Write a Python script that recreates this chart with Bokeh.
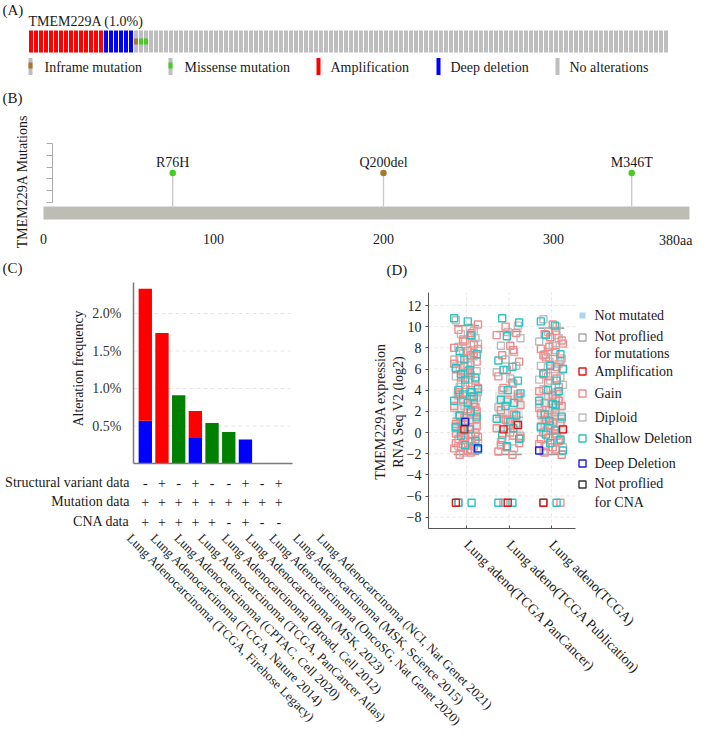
import math
from bokeh.plotting import figure
from bokeh.models import Range1d, LinearAxis, FixedTicker, CustomJSTickFormatter, PrintfTickFormatter
from bokeh.core.properties import value
from bokeh.embed import file_html
from bokeh.resources import INLINE

# ================= DATA =================
# Panel A: OncoPrint summary
gene = "TMEM229A"
altered_pct = 1.0
onco_types = ["Amplification", "Deep deletion", "Inframe mutation", "Missense mutation", "No alterations"]
onco_counts = [15, 6, 1, 2, 104]
onco_legend = ["Inframe mutation", "Missense mutation", "Amplification", "Deep deletion", "No alterations"]

# Panel B: lollipop
mut_names = ["R76H", "Q200del", "M346T"]
mut_pos = [76, 200, 346]
mut_count = [1, 1, 1]
mut_kind = ["Missense mutation", "Inframe mutation", "Missense mutation"]
protein_length = 380
protein_ticks = [0, 100, 200, 300, 380]
count_ticks = [0, 0.4, 0.8, 1.2, 1.6, 2.0]

# Panel C: alteration frequency by study
studies = [
    "Lung Adenocarcinoma (TCGA, Firehose Legacy)",
    "Lung Adenocarcinoma (TCGA, Nature 2014)",
    "Lung Adenocarcinoma (CPTAC, Cell 2020)",
    "Lung Adenocarcinoma (TCGA, PanCancer Atlas)",
    "Lung Adenocarcinoma (Broad, Cell 2012)",
    "Lung Adenocarcinoma (MSK, 2023)",
    "Lung Adenocarcinoma (OncoSG, Nat Genet 2020)",
    "Lung Adenocarcinoma (MSK, Science 2015)",
    "Lung Adenocarcinoma (NCI, Nat Genet 2021)",
]
freq_deep = [0.57, 0, 0, 0.34, 0, 0, 0.32, 0, 0]
freq_amp = [1.76, 1.74, 0, 0.36, 0, 0, 0, 0, 0]
freq_mut = [0, 0, 0.91, 0, 0.54, 0.42, 0, 0, 0]
profile_rows = ["Structural variant data", "Mutation data", "CNA data"]
sv_data = ["-", "+", "-", "+", "-", "-", "+", "-", "+"]
mutation_data = ["+", "+", "+", "+", "+", "+", "+", "+", "+"]
cna_data = ["+", "+", "+", "+", "+", "-", "+", "-", "-"]
freq_ticks = [0.5, 1.0, 1.5, 2.0]

# Panel D: expression by CNA
d_cats = ["Lung adeno(TCGA PanCancer)", "Lung adeno(TCGA Publication)", "Lung adeno(TCGA)"]
expr_ticks = [-8, -6, -4, -2, 0, 2, 4, 6, 8, 10, 12]
box_q1 = [-0.2, 0.03, -0.2]
box_q3 = [3.95, 3.85, 3.9]
box_med = [1.35, 1.45, 1.3]
whisk_lo = [-2.08, -2.08, -2.08]
whisk_hi = [10.1, 9.54, 9.86]

pan_diploid = [10.6, 9.9, 9.3, 8.9, 8.7, 8.4, 8.1, 7.8, 7.5, 7.2, 6.9, 6.6, 6.4, 6.1, 5.8, 5.6, 5.3, 5.0,
               4.7, 4.4, 4.1, 3.8, 3.5, 3.2, 2.9, 2.6, 2.3, 2.0, 1.8, 1.5, 1.2, 0.9, 0.6, 0.3, 0.0, -0.3,
               -0.7, -1.0, -1.3, -1.7, -1.9, 9.6, 8.0, 7.0, 5.4, 4.3, 3.3, 2.5, 0.4]
pan_gain = [10.2, 9.7, 9.1, 8.8, 8.3, 8.0, 7.7, 7.3, 7.0, 6.7, 6.3, 6.0, 5.6, 5.2, 4.9, 4.5, 4.2, 3.8,
            3.4, 3.1, 2.8, 2.5, 2.2, 1.9, 1.6, 1.3, 1.1, 0.8, 0.5, 0.2, 0.0, -0.2, -0.4, -0.6, -0.9, -1.1,
            -1.3, -1.5, -1.7, -1.9, -2.1, 0.6, -0.5, -1.0, -1.6, 1.0, 2.4, 5.5, 7.9, -6.64,
            9.4, 8.6, 7.5, 6.5, 5.8, 4.0, 3.6, 2.0, 1.4, -0.1, -0.8, -1.4]
pan_shallow = [10.8, 10.5, 9.2, 7.7, 7.4, 6.9, 6.1, 5.9, 5.5, 5.2, 5.0, 4.1, 4.0, 3.8, 3.6, 3.4, 3.0,
               2.8, 2.0, 1.6, 1.5, 1.0, 0.5, 0.3, -0.3, -0.8, -1.2, -1.6, -6.64, -6.64]
pan_amp = [0.3, -6.64]
pan_deep = [1.0, -1.5]

pub_diploid = [10.1, 9.5, 8.9, 8.2, 7.6, 6.9, 6.3, 5.7, 5.1, 4.6, 4.0, 3.4, 2.9, 2.4, 1.9, 1.3, 0.8,
               0.3, -0.3, -0.9, -1.5]
pub_gain = [10.0, 9.4, 9.2, 8.2, 7.8, 7.3, 6.7, 5.9, 5.3, 4.7, 4.2, 3.6, 3.1, 2.6, 2.1, 1.7, 1.2, 0.8,
            0.4, 0.0, -0.3, -0.7, -1.0, -1.4, -1.8, -2.1, -6.64, 3.3, 1.0, -0.5, -1.2]
pub_shallow = [10.8, 10.4, 9.1, 6.8, 6.2, 5.9, 4.9, 4.0, 3.7, 3.1, 2.8, 2.5, 1.6, 1.3, 1.0, 0.4, -0.2,
               -0.6, -1.3, -6.64, -6.64]
pub_amp = [0.3, 0.7, -6.64]
pub_deep = []

tcga_diploid = [10.7, 10.0, 9.5, 8.9, 8.6, 8.2, 7.8, 7.4, 7.0, 6.7, 6.3, 6.0, 5.6, 5.2, 4.9, 4.5, 4.1,
                3.8, 3.4, 3.0, 2.7, 2.3, 2.0, 1.7, 1.3, 1.0, 0.6, 0.2, -0.2, -0.6, -1.0, -1.4, -1.8,
                9.2, 7.6, 6.5, 5.0, 3.6, 2.5, 0.8]
tcga_gain = [10.2, 9.6, 9.3, 8.7, 8.1, 7.9, 7.6, 7.1, 6.8, 6.4, 6.0, 5.5, 5.1, 4.7, 4.3, 3.9, 3.5, 3.2,
             2.8, 2.5, 2.1, 1.8, 1.5, 1.2, 0.9, 0.6, 0.3, 0.0, -0.3, -0.5, -0.8, -1.1, -1.4, -1.6, -1.9,
             -2.1, 0.7, -0.6, 1.9, 4.0, -6.64, 9.0, 8.4, 7.3, 6.2, 5.3, 3.0, 2.3, 1.0, -0.1, -1.3]
tcga_shallow = [10.5, 10.1, 9.2, 7.4, 6.3, 6.0, 5.6, 4.9, 4.0, 3.9, 3.0, 2.7, 2.6, 1.7, 1.5, 1.1, 0.5,
                0.2, -0.2, -0.7, -1.0, -1.7, -6.64, -6.64]
tcga_amp = [0.3, -6.64]
tcga_deep = [-1.7]

d_legend = ["Not mutated", "Not proflied", "for mutations", "Amplification", "Gain", "Diploid",
            "Shallow Deletion", "Deep Deletion", "Not proflied", "for CNA"]

# ================= LAYOUT HELPERS =================
W, H, OFF = 693, 733, 0
FONT = "Liberation Serif"
INK = "#1a1a1a"


def make_x(a, pa, b, pb):
    s = (pb - pa) / (b - a)
    conv = lambda px: a + (px - pa) / s
    return Range1d(start=conv(OFF), end=conv(OFF + W)), conv


def make_y(a, pa, b, pb):
    s = (pb - pa) / (b - a)
    conv = lambda py: a + (py - pa) / s
    return Range1d(start=conv(OFF + H), end=conv(OFF)), conv


p = figure(width=W, height=H, output_backend="svg", toolbar_location=None,
           x_range=Range1d(OFF, OFF + W), y_range=Range1d(OFF + H, OFF),
           x_axis_type=None, y_axis_type=None, min_border=0)
p.outline_line_color = None
p.background_fill_color = "white"
p.border_fill_color = "white"

ax_r, ax_c = make_x(0, 30.5, 127, 665.5)
ay_r, ay_c = make_y(0, 52, 1, 30)
bx_r, bx_c = make_x(0, 43, 380, 689)
by_r, by_c = make_y(0, 202, 2, 143)
cx_r, cx_c = make_x(0, 144.8, 8, 278.3)
cy_r, cy_c = make_y(0, 463, 2, 313)
dx_r, dx_c = make_x(0, 466, 2, 551)
dy_r, dy_c = make_y(0, 432, 12, 305)
p.extra_x_ranges = {"ax": ax_r, "bx": bx_r, "cx": cx_r, "dx": dx_r}
p.extra_y_ranges = {"ay": ay_r, "by": by_r, "cy": cy_r, "dy": dy_r}


def T(x, y, s, size=14, align="left", baseline="middle", angle=0.0, color=INK, xn="default", yn="default"):
    p.text(x=x, y=y, text=s, angle=angle, text_font=value(FONT), text_font_size=value(f"{size}px"),
           text_align=align, text_baseline=baseline, text_color=color,
           x_range_name=xn, y_range_name=yn)


def style_axis(a, size=14):
    a.major_label_text_font = FONT
    a.major_label_text_font_size = f"{size}px"
    a.major_label_text_color = INK
    a.minor_tick_in = 0
    a.minor_tick_out = 0


ONCO = {"Amplification": "#FF0000", "Deep deletion": "#0000FF", "Inframe mutation": "#A57A2C",
        "Missense mutation": "#44CC22", "No alterations": "#BEBEBE"}

# ================= PANEL A =================
T([2], [9], ["(A)"], size=15)
T([28], [21], [f"{gene} ({altered_pct:.1f}%)"], size=14)
col_kind = [k for k, n in zip(onco_types, onco_counts) for _ in range(n)]
col_idx = list(range(len(col_kind)))
base_col = [ONCO[k] if k in ("Amplification", "Deep deletion") else ONCO["No alterations"] for k in col_kind]
p.vbar(x=col_idx, width=0.8, bottom=0, top=1, fill_color=base_col, line_color=None,
       x_range_name="ax", y_range_name="ay")
mcols = [i for i, k in enumerate(col_kind) if k.endswith("mutation")]
p.vbar(x=mcols, width=0.8, bottom=0.36, top=0.64, fill_color=[ONCO[col_kind[i]] for i in mcols],
       line_color=None, x_range_name="ax", y_range_name="ay")

leg_mx = [30, 170, 318, 438, 557]
leg_tx = [44, 184, 330, 450, 569]
leg_base = [ONCO[k] if k in ("Amplification", "Deep deletion") else ONCO["No alterations"] for k in onco_legend]
p.rect(x=leg_mx, y=[66] * 5, width=4, height=17, fill_color=leg_base, line_color=None)
inner = [(x, ONCO[k]) for x, k in zip(leg_mx, onco_legend) if k.endswith("mutation")]
p.rect(x=[i[0] for i in inner], y=[65] * len(inner), width=4, height=6,
       fill_color=[i[1] for i in inner], line_color=None)
T(leg_tx, [67] * 5, onco_legend, size=14)

# ================= PANEL B =================
T([2], [97], ["(B)"], size=15)
T([22], [181], [f"{gene} Mutations"], size=14, align="center", angle=math.pi / 2)
p.quad(left=[0], right=[protein_length], top=[by_c(206)], bottom=[by_c(219)],
       fill_color="#BDBDB5", line_color=None, x_range_name="bx", y_range_name="by")
p.segment(x0=mut_pos, y0=[by_c(206)] * len(mut_pos), x1=mut_pos, y1=mut_count,
          line_color="#C8C8C8", line_width=1.3, x_range_name="bx", y_range_name="by")
p.scatter(x=mut_pos, y=mut_count, size=6.5, fill_color=[ONCO[k] for k in mut_kind], line_color=None,
          x_range_name="bx", y_range_name="by")
T(mut_pos, [c + 11 / 29.5 for c in mut_count], mut_names, size=14, align="center", xn="bx", yn="by")

b_yaxis = LinearAxis(x_range_name="bx", y_range_name="by", fixed_location=bx_c(52), bounds=(0, 2),
                     ticker=FixedTicker(ticks=count_ticks), formatter=CustomJSTickFormatter(code="return ''"),
                     major_tick_in=0, major_tick_out=6, axis_line_color="#AAAAAA",
                     major_tick_line_color="#AAAAAA")
style_axis(b_yaxis)
p.add_layout(b_yaxis, "left")

inner_ticks = [t for t in protein_ticks if t != protein_length]
b_xaxis = LinearAxis(x_range_name="bx", y_range_name="by", fixed_location=by_c(229),
                     ticker=FixedTicker(ticks=inner_ticks),
                     axis_line_color=None, major_tick_line_color=None, minor_tick_line_color=None,
                     major_tick_in=0, major_tick_out=0, major_label_standoff=4)
style_axis(b_xaxis)
p.add_layout(b_xaxis, "below")
# end-of-protein label, kept inside the canvas edge
T([bx_c(692)], [by_c(240)], [f"{protein_length}aa"], size=14, align="right", xn="bx", yn="by")

# ================= PANEL C =================
T([2], [267], ["(C)"], size=15)
idx = list(range(len(studies)))
p.segment(x0=[cx_c(133)] * len(freq_ticks), x1=[cx_c(290)] * len(freq_ticks), y0=freq_ticks, y1=freq_ticks,
          line_color="#E4E4E4", line_dash="4 3", line_width=1, x_range_name="cx", y_range_name="cy")
p.vbar(x=idx, width=0.8, bottom=0, top=freq_deep, fill_color="#0000FF", line_color=None,
       x_range_name="cx", y_range_name="cy")
p.vbar(x=idx, width=0.8, bottom=freq_deep, top=[d + a for d, a in zip(freq_deep, freq_amp)],
       fill_color="#FF0000", line_color=None, x_range_name="cx", y_range_name="cy")
p.vbar(x=idx, width=0.8, bottom=0, top=freq_mut, fill_color="#008000", line_color=None,
       x_range_name="cx", y_range_name="cy")

c_yaxis = LinearAxis(x_range_name="cx", y_range_name="cy", fixed_location=cx_c(133), bounds=(0, cy_c(282)),
                     ticker=FixedTicker(ticks=freq_ticks), formatter=PrintfTickFormatter(format="%.1f%%"),
                     major_tick_in=0, major_tick_out=0, major_label_standoff=12,
                     axis_line_color="#7A7A7A", axis_line_width=1.5)
style_axis(c_yaxis)
c_yaxis.major_label_text_color = "#333333"
p.add_layout(c_yaxis, "left")
c_xaxis = LinearAxis(x_range_name="cx", y_range_name="cy", fixed_location=0, bounds=(cx_c(133), cx_c(292)),
                     ticker=FixedTicker(ticks=[]), major_tick_in=0, major_tick_out=0,
                     axis_line_color="#7A7A7A", axis_line_width=1.5)
style_axis(c_xaxis)
p.add_layout(c_xaxis, "below")
T([78], [368], ["Alteration frequency"], size=14, align="center", angle=math.pi / 2)

row_py = [482, 501, 521]
T([cx_c(129)] * 3, [cy_c(v) for v in row_py], profile_rows, size=14, align="right", xn="cx", yn="cy")
for sym, py in zip([sv_data, mutation_data, cna_data], row_py):
    T(idx, [cy_c(py)] * len(idx), sym, size=14, align="center", xn="cx", yn="cy")
T([cx_c(134 + 23.75 * i) for i in idx], [cy_c(530)] * len(idx), studies, size=13,
  align="left", baseline="top", angle=-math.pi / 4, xn="cx", yn="cy")

# ================= PANEL D =================
T([386], [269], ["(D)"], size=15)
cats = [0, 1, 2]
p.segment(x0=[dx_c(428)] * len(expr_ticks), x1=[dx_c(575)] * len(expr_ticks), y0=expr_ticks, y1=expr_ticks,
          line_color="#E6E6E6", line_dash="3 3", line_width=1, x_range_name="dx", y_range_name="dy")
p.segment(x0=cats, x1=cats, y0=[dy_c(528)] * 3, y1=[dy_c(292)] * 3,
          line_color="#E6E6E6", line_dash="3 3", line_width=1, x_range_name="dx", y_range_name="dy")
p.quad(left=[c - 0.33 for c in cats], right=[c + 0.33 for c in cats], bottom=box_q1, top=box_q3,
       fill_color="#DADADA", fill_alpha=0.6, line_color=None, x_range_name="dx", y_range_name="dy")
p.segment(x0=cats, x1=cats, y0=box_q3, y1=whisk_hi, line_color="#C0C0C0", line_width=1,
          x_range_name="dx", y_range_name="dy")
p.segment(x0=cats, x1=cats, y0=whisk_lo, y1=box_q1, line_color="#C0C0C0", line_width=1,
          x_range_name="dx", y_range_name="dy")
for wv in (whisk_hi, whisk_lo):
    p.segment(x0=[c - 0.3 for c in cats], x1=[c + 0.3 for c in cats], y0=wv, y1=wv,
              line_color="#9A9A9A", line_width=1.5, x_range_name="dx", y_range_name="dy")
p.segment(x0=[c - 0.33 for c in cats], x1=[c + 0.33 for c in cats], y0=box_med, y1=box_med,
          line_color="#A0A0A0", line_width=1.2, x_range_name="dx", y_range_name="dy")

JIT = [-0.25, 0.08, -0.13, 0.21, -0.03, 0.27, -0.19, 0.12, -0.08, 0.17, -0.29, 0.03, 0.1, -0.16, 0.24, -0.05]
CNA_COL = {"Diploid": "#BDBDBD", "Gain": "#F28C8C", "Shallow Deletion": "#2BC3C3",
           "Amplification": "#E0161B", "Deep Deletion": "#1E1EE6"}
groups = [("Diploid", [pan_diploid, pub_diploid, tcga_diploid]),
          ("Gain", [pan_gain, pub_gain, tcga_gain]),
          ("Shallow Deletion", [pan_shallow, pub_shallow, tcga_shallow]),
          ("Amplification", [pan_amp, pub_amp, tcga_amp]),
          ("Deep Deletion", [pan_deep, pub_deep, tcga_deep])]
for gi, (gname, lists) in enumerate(groups):
    xs, ys = [], []
    for ci, vals in enumerate(lists):
        xs += [ci + JIT[(i + gi * 5 + ci * 3) % len(JIT)] for i in range(len(vals))]
        ys += vals
    p.scatter(x=xs, y=ys, marker="square", size=7, fill_alpha=0, line_color=CNA_COL[gname], line_width=1.4,
              x_range_name="dx", y_range_name="dy")

d_yaxis = LinearAxis(x_range_name="dx", y_range_name="dy", fixed_location=dx_c(428),
                     bounds=(dy_c(528), dy_c(292)), ticker=FixedTicker(ticks=expr_ticks),
                     major_tick_in=0, major_tick_out=3, major_label_standoff=4,
                     axis_line_color="#555555", major_tick_line_color="#555555")
style_axis(d_yaxis)
p.add_layout(d_yaxis, "left")
overr = {}
for i, c in enumerate(d_cats):
    overr[i] = c
    overr[str(i)] = c
d_xaxis = LinearAxis(x_range_name="dx", y_range_name="dy", fixed_location=dy_c(528),
                     bounds=(dx_c(428), dx_c(575)), ticker=FixedTicker(ticks=cats),
                     major_label_overrides=overr, major_label_orientation=-math.pi / 4,
                     major_tick_in=3, major_tick_out=0, major_label_standoff=14,
                     axis_line_color="#555555", major_tick_line_color="#555555")
style_axis(d_xaxis)
p.add_layout(d_xaxis, "below")
T([380], [411], [f"{gene} expression"], size=14, align="center", angle=math.pi / 2)
T([398], [411], ["RNA Seq V2 (log2)"], size=14, align="center", angle=math.pi / 2)

# legend D
leg_y = [315, 336, 353, 371, 393, 417, 438, 463, 483, 502]
mark_rows = [(315, "#A9D6EF"), (337, "#A8A8A8"), (371, "#E0161B"),
             (393, "#F28C8C"), (417, "#BDBDBD"), (438, "#2BC3C3"),
             (463, "#1E1EE6"), (484, "#333333")]
p.scatter(x=[582], y=[mark_rows[0][0]], marker="square", size=6, fill_color=mark_rows[0][1], line_color=None)
p.scatter(x=[582] * 7, y=[m[0] for m in mark_rows[1:]], marker="square", size=7, fill_alpha=0,
          line_color=[m[1] for m in mark_rows[1:]], line_width=1.4)
T([594] * len(d_legend), leg_y, d_legend, size=14)

open("out.html", "w").write(file_html(p, INLINE))
